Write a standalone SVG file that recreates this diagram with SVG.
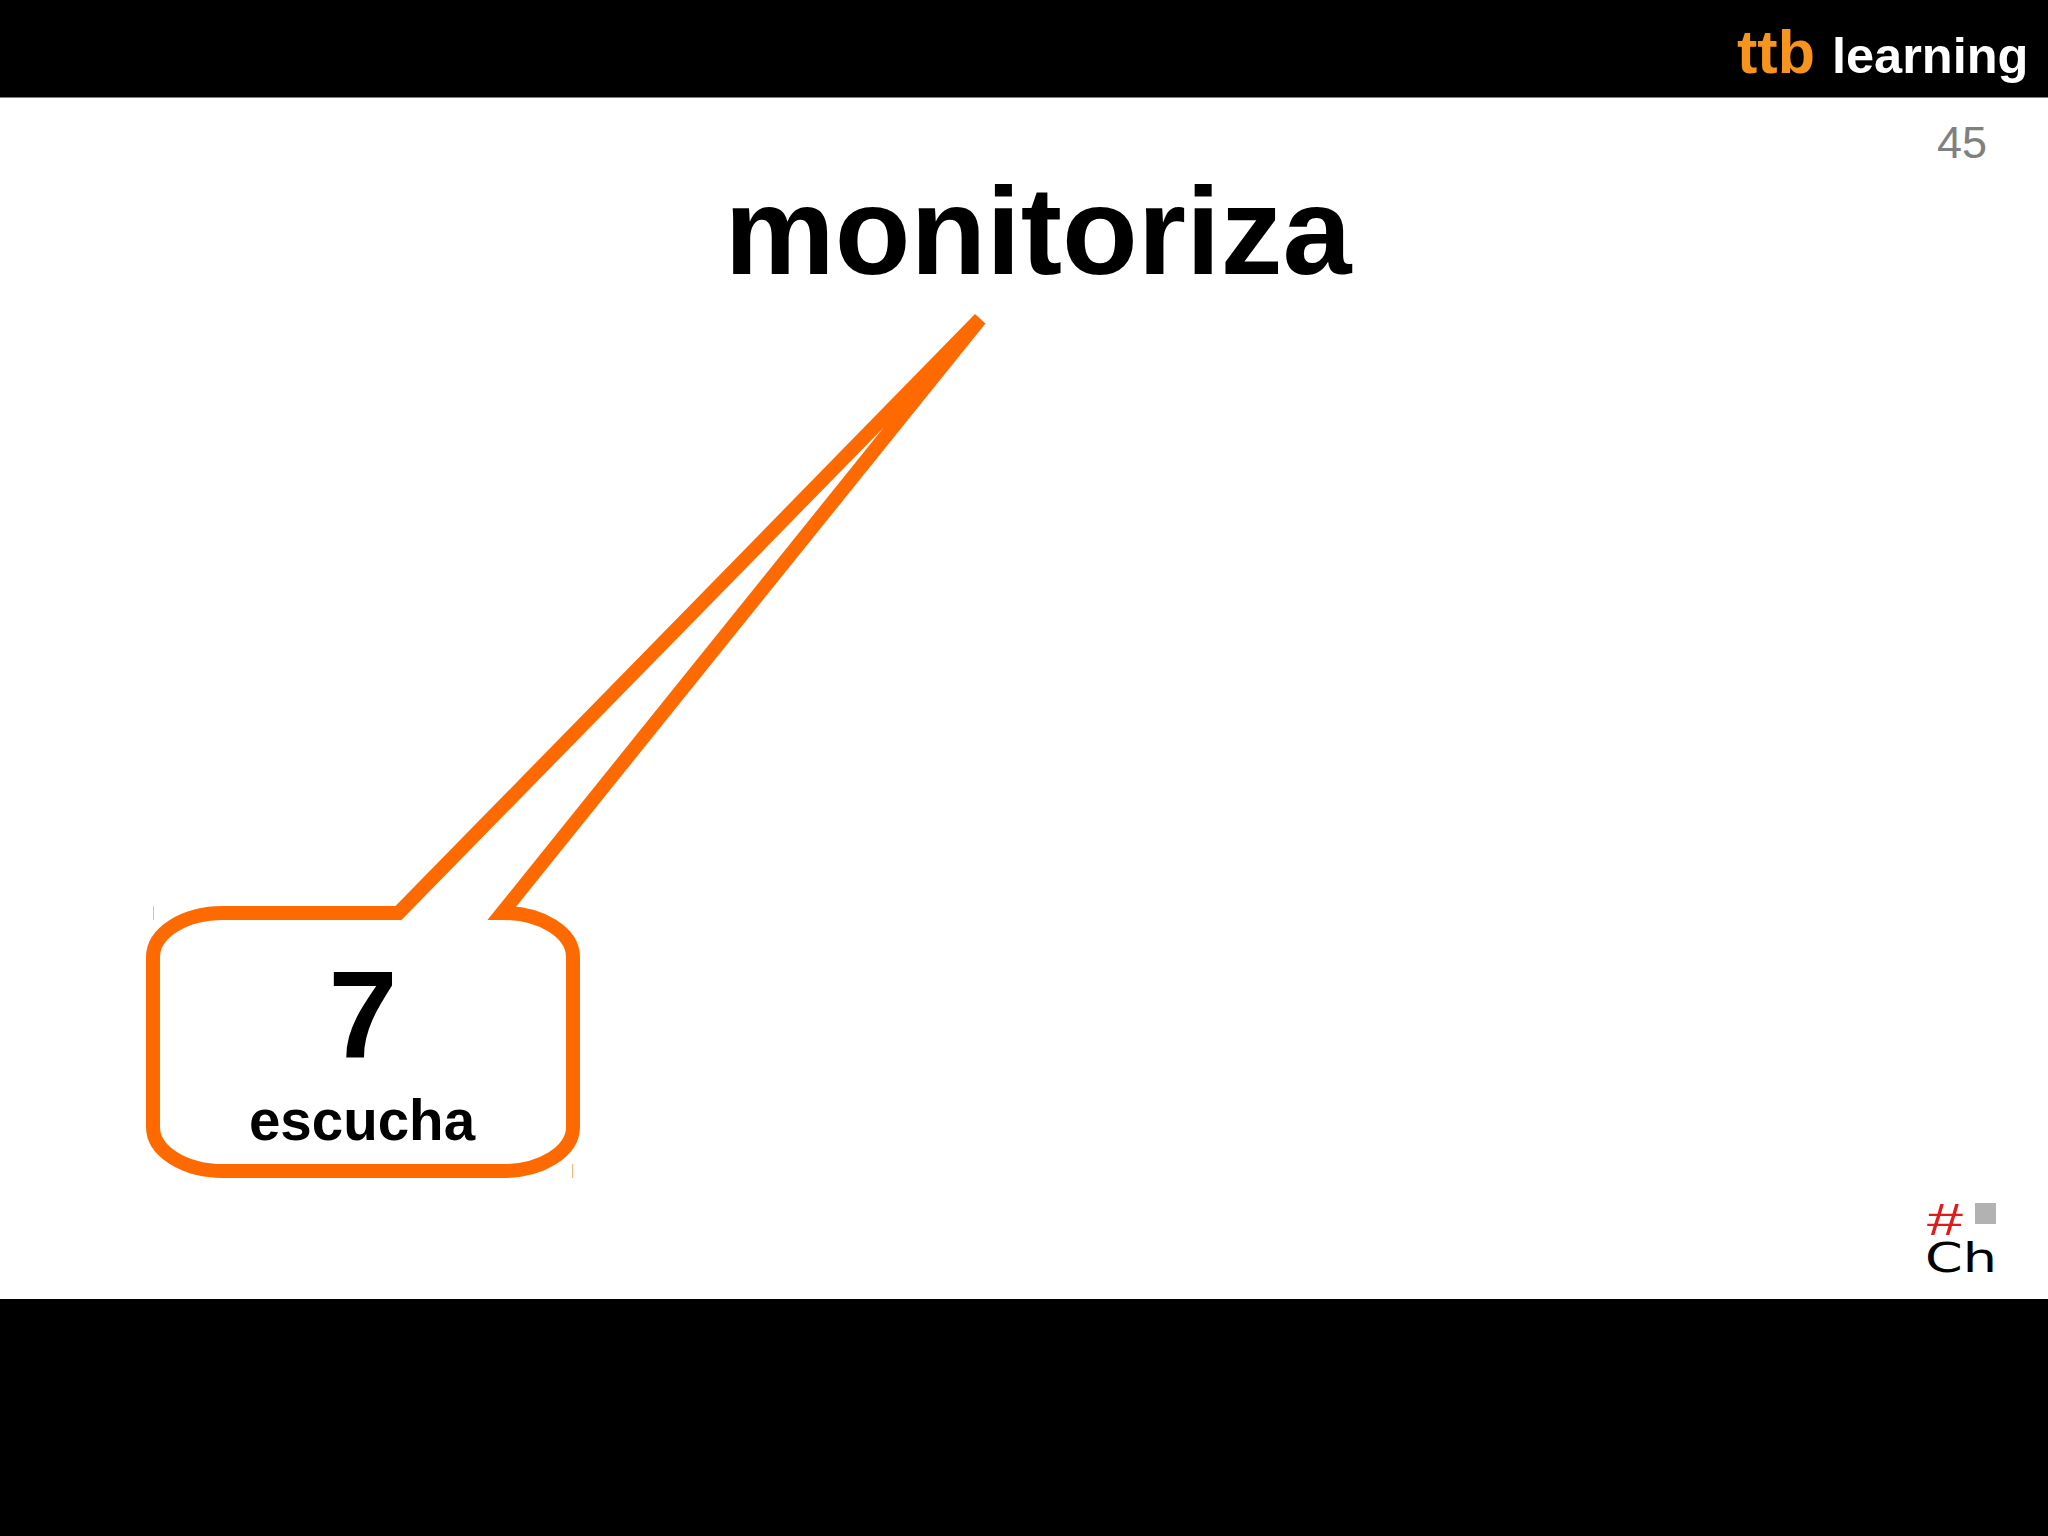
<svg xmlns="http://www.w3.org/2000/svg" width="2048" height="1536" viewBox="0 0 2048 1536">
<style>
text{font-family:"Liberation Sans",Arial,sans-serif;font-weight:700;fill:#000}
.thin{font-weight:400}
.tick{stroke:#ff6a00;stroke-width:1;opacity:.5;fill:none}
</style>
<rect width="2048" height="1536" fill="#fff"/>
<g id="bars">
<rect x="0" y="0" width="2048" height="97.500" fill="#000"/>
<rect x="0" y="1299" width="2048" height="237" fill="#000"/>
</g>
<g id="brand">
<text x="1737" y="73" font-size="61" style="fill:#f7941d">ttb</text>
<text x="1832" y="73" font-size="50.500" style="fill:#fff">learning</text>
</g>
<g id="page-number"><text class="thin" x="1937" y="158" font-size="45" style="fill:#808080">45</text></g>
<g id="title"><text x="1038" y="274" font-size="124" text-anchor="middle">monitoriza</text></g>
<g id="callout">
<path d="M980 319L398.500 913H223A70 44 0 0 0 153 957V1127A70 44 0 0 0 223 1171H503A70 44 0 0 0 573 1127V957A70 44 0 0 0 503 913H502Z" fill="#fff" stroke="#ff6a00" stroke-width="14"/>
<line class="tick" x1="153.500" y1="906" x2="153.500" y2="920"/>
<line class="tick" x1="572.500" y1="1164" x2="572.500" y2="1178"/>
<text x="363" y="1058" font-size="124" text-anchor="middle">7</text>
<text x="362" y="1140" font-size="56.500" text-anchor="middle">escucha</text>
</g>
<g id="logo">
<text class="thin" x="1926" y="1235" font-size="44" font-style="italic" textLength="36" lengthAdjust="spacingAndGlyphs" style="fill:#e01b1b">#</text>
<rect x="1975" y="1203" width="21" height="21" fill="#b2b2b2"/>
<text class="thin" x="1925" y="1272" font-size="41" textLength="72" lengthAdjust="spacingAndGlyphs" style="font-family:'DejaVu Sans',sans-serif">Ch</text>
</g>
</svg>
